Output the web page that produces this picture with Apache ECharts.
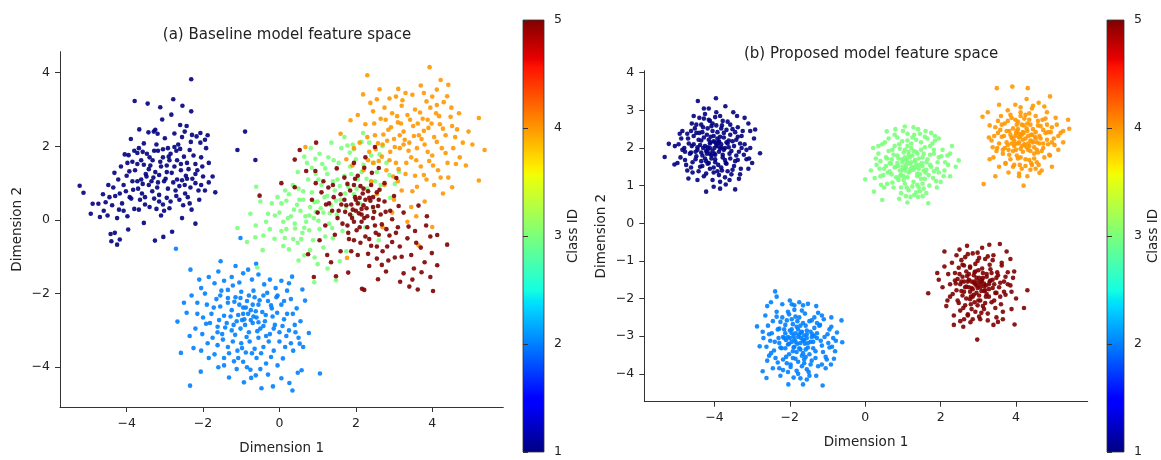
<!DOCTYPE html>
<html><head><meta charset="utf-8">
<script src="https://cdn.jsdelivr.net/npm/echarts@6/dist/echarts.min.js"></script>
<style>html,body{margin:0;padding:0;background:#fff}#c{width:1161px;height:460px}</style>
</head><body><div id="c"></div>
<script>
// ---------- DATA ----------
const titleA = '(a) Baseline model feature space';
const titleB = '(b) Proposed model feature space';
const xName = 'Dimension 1';
const yName = 'Dimension 2';
const cbName = 'Class ID';
const classIds = [1, 2, 3, 4, 5];
const ticksAx = [-4, -2, 0, 2, 4];
const ticksAy = [-4, -2, 0, 2, 4];
const ticksBx = [-4, -2, 0, 2, 4];
const ticksBy = [-4, -3, -2, -1, 0, 1, 2, 3, 4];
const cbTicks = [1, 2, 3, 4, 5];

// Panel (a) baseline
const a1 = [[-5.23,0.93],[-5.13,0.74],[-4.94,0.17],[-4.89,0.44],[-4.74,0.44],[-4.42,-0.38],[-4.31,-0.35],[-4.40,-0.58],[-4.25,-0.67],[-4.18,-0.53],[-3.96,-0.26],[-3.26,-0.56],[-3.04,-0.46],[-2.81,-0.32],[-1.10,1.90],[-0.90,2.40],[-0.63,1.63],[-2.31,3.82],[-3.79,3.23],[-3.45,3.16],[-2.78,3.28],[-3.12,3.06],[-2.54,3.10],[-2.31,2.95],[-2.83,2.86],[-3.07,2.73],[-3.67,2.46],[-3.43,2.38],[-3.29,2.40],[-3.19,2.34],[-2.60,2.58],[-2.43,2.55],[-2.29,2.31],[-2.17,2.27],[-2.07,2.36],[-1.88,2.30],[-3.89,2.20],[-2.07,2.10],[-4.05,1.78],[-3.95,1.76],[-3.72,1.82],[-3.58,1.85],[-3.47,1.80],[-3.32,1.62],[-3.18,1.88],[-3.05,1.92],[-2.92,1.95],[-2.85,1.80],[-2.70,1.88],[-2.60,1.93],[-2.50,1.72],[-2.42,1.55],[-2.35,1.90],[-2.20,1.52],[-2.00,1.18],[-1.85,1.55],[-1.68,0.75],[-2.05,0.95],[-2.20,1.00],[-2.33,0.88],[-2.45,1.20],[-2.58,1.35],[-2.68,1.10],[-2.75,1.45],[-2.88,1.62],[-2.95,1.30],[-3.02,1.05],[-3.10,1.45],[-3.15,1.22],[-3.25,1.30],[-3.35,1.05],[-3.42,0.95],[-3.50,1.25],[-3.55,1.50],[-3.62,1.10],[-3.70,0.85],[-3.78,1.35],[-3.85,1.05],[-3.92,0.62],[-4.00,1.20],[-4.08,0.95],[-4.15,1.45],[-4.22,1.10],[-4.30,0.65],[-4.38,0.40],[-4.45,0.62],[-4.55,0.48],[-4.60,0.25],[-4.12,0.45],[-3.98,0.10],[-3.80,0.30],[-3.65,0.55],[-3.52,0.62],[-3.40,0.35],[-3.28,0.58],[-3.15,0.68],[-3.05,0.42],[-2.95,0.60],[-2.85,0.50],[-2.72,0.80],[-2.62,0.55],[-2.52,0.40],[-2.40,0.62],[-2.30,0.28],[-2.48,0.95],[-2.78,1.02],[-3.20,0.88],[-3.60,0.72],[-3.88,0.58],[-4.25,0.05],[-4.50,0.12],[-2.20,-0.10],[-2.55,0.05],[-3.10,0.12],[-3.55,-0.08],[-2.90,1.72],[-3.40,1.70],[-3.85,1.58],[-2.25,1.75],[-2.65,2.05],[-3.00,2.22],[-3.55,2.08],[-2.15,1.35],[-1.95,0.80],[-2.10,0.55],[-1.75,1.18],[-2.42,1.12],[-2.92,0.85],[-3.30,1.15],[-3.72,1.05],[-4.35,0.88],[-4.70,0.08],[-2.55,2.25],[-2.75,2.35],[-3.25,2.45],[-1.92,1.95],[-2.05,1.70],
[-3.62,1.62],[-3.38,1.48],[-3.12,1.58],[-2.98,1.12],[-2.82,1.28],[-2.68,1.62],[-2.55,1.08],[-2.38,1.38],[-2.28,1.12],[-3.48,1.18],[-3.58,0.98],[-3.72,1.52],[-3.93,1.32],[-4.02,0.78],[-4.18,0.72],[-3.83,0.82],[-3.33,0.78],[-3.18,1.02],[-2.62,0.92],[-2.47,0.72],[-2.88,0.32],[-3.22,0.30],[-3.68,0.28],[-4.08,0.25],[-2.75,1.98],[-3.22,2.05],[-3.68,1.95],[-2.32,2.12],[-2.02,1.45],[-1.85,1.02],[-2.12,0.80],[-3.05,1.70],[-3.28,1.88],[-3.80,1.88],[-4.32,1.28],[-4.48,0.95],[-4.62,0.70],[-2.58,1.52],[-2.95,1.48],[-3.42,1.38],[-3.15,0.50],[-2.70,0.65],[-2.20,1.25],[-3.98,1.55],[-3.52,0.42],[-3.02,0.25],[-2.35,0.45],[-4.20,0.28],[-1.95,2.18],[-2.48,2.40]];
const a2 = [[-2.71,-0.78],[-1.02,-0.49],[-2.33,-1.35],[-1.54,-1.12],[-0.61,-1.19],[-2.67,-2.76],[-2.43,-2.52],[-2.58,-3.61],[-2.25,-3.48],[-2.06,-4.12],[-2.34,-4.50],[-1.32,-4.28],[-0.93,-4.41],[-0.74,-4.29],[-0.47,-4.57],[-0.17,-4.52],[0.05,-4.30],[0.26,-4.43],[0.34,-4.63],[0.48,-4.15],[0.58,-4.08],[1.06,-4.17],[0.77,-3.07],[0.67,-2.19],[0.60,-1.89],[0.33,-1.54],[-1.19,-3.84],[-0.76,-4.07],[0.09,-3.76],[0.36,-3.55],[0.53,-3.36],[-2.10,-1.62],[-2.05,-1.85],[-1.95,-2.00],[-1.85,-1.55],[-1.70,-1.72],[-1.60,-1.40],[-1.45,-1.65],[-1.35,-1.90],[-1.25,-1.55],[-1.15,-1.25],[-1.05,-1.70],[-0.95,-1.45],[-0.82,-1.35],[-0.72,-1.62],[-0.55,-1.48],[-0.40,-1.75],[-0.25,-1.62],[-0.10,-1.85],[0.05,-1.65],[0.20,-1.92],[0.30,-2.15],[0.45,-2.40],[0.20,-2.55],[0.05,-2.30],[-0.08,-2.10],[-0.20,-2.40],[-0.30,-2.20],[-0.42,-2.05],[-0.55,-2.30],[-0.65,-2.10],[-0.75,-2.45],[-0.85,-2.20],[-0.95,-2.55],[-1.05,-2.30],[-1.15,-2.10],[-1.25,-2.45],[-1.35,-2.25],[-1.45,-2.60],[-1.55,-2.35],[-1.65,-2.15],[-1.78,-2.55],[-1.90,-2.30],[-2.00,-2.65],[-2.15,-2.25],[-1.82,-2.80],[-1.62,-2.90],[-1.50,-3.10],[-1.38,-2.80],[-1.25,-3.00],[-1.12,-2.75],[-1.02,-2.95],[-0.92,-2.70],[-0.80,-3.05],[-0.70,-2.80],[-0.60,-2.65],[-0.50,-2.95],[-0.38,-2.75],[-0.25,-3.10],[-0.12,-2.85],[0.00,-3.05],[0.12,-2.70],[0.25,-3.00],[0.40,-2.85],[0.50,-3.20],[0.30,-3.35],[0.15,-3.45],[0.00,-3.30],[-0.15,-3.55],[-0.28,-3.30],[-0.42,-3.45],[-0.55,-3.20],[-0.65,-3.50],[-0.78,-3.30],[-0.88,-3.60],[-1.00,-3.35],[-1.10,-3.55],[-1.22,-3.30],[-1.35,-3.45],[-1.48,-3.25],[-1.62,-3.40],[-1.75,-3.20],[-1.88,-3.35],[-2.02,-3.10],[-1.70,-3.65],[-1.45,-3.75],[-0.95,-3.85],[-0.60,-3.75],[-0.35,-3.90],[-0.05,-3.95],[-0.50,-4.05],[-0.85,-4.00],[-1.60,-4.00],[-0.70,-2.30],[-0.90,-2.85],[-1.08,-2.58],[-0.68,-2.62],[-0.45,-2.50],[-1.20,-2.85],[-0.80,-2.05],[-1.00,-1.95],[-0.35,-3.15],[-0.18,-2.62],[0.55,-2.75],[0.62,-3.45],[-2.20,-2.95],[-2.35,-3.15],[-1.55,-2.05],[0.12,-2.20],
[-1.18,-2.22],[-1.02,-2.12],[-0.88,-2.38],[-0.62,-2.48],[-0.52,-2.18],[-0.36,-2.58],[-0.98,-2.72],[-1.28,-2.62],[-1.42,-2.92],[-1.16,-3.12],[-0.86,-3.18],[-0.58,-3.02],[-0.42,-2.88],[-0.22,-2.32],[-0.06,-2.52],[0.08,-2.88],[-1.58,-2.72],[-1.72,-2.38],[-1.92,-2.82],[-1.32,-3.62],[-0.98,-3.48],[-0.72,-3.62],[-0.48,-3.62],[-0.22,-3.72],[0.18,-3.15],[-1.52,-1.92],[-1.22,-1.78],[-0.68,-1.92],[-0.32,-1.98],[-0.05,-2.05],[0.35,-2.55],[-2.15,-2.55],[-2.30,-2.05],[-1.12,-4.05],[-0.30,-4.20],[-2.05,-3.55],[-1.85,-3.75],[0.42,-3.05],[-0.75,-2.72],[-0.95,-2.38],[-1.35,-2.12],[-1.08,-3.75],[-0.62,-4.22],[-2.50,-2.25],[0.25,-1.72],[-0.55,-2.78],[-0.82,-2.55],[-1.62,-3.05],[-0.15,-2.95],[-1.45,-3.95]];
const a3 = [[-1.10,-0.22],[-0.63,-0.47],[-0.42,-0.42],[-0.44,-0.82],[-0.13,-0.51],[0.14,-0.49],[0.10,-0.71],[0.36,-0.52],[0.57,-0.52],[0.65,-0.96],[0.80,-0.82],[1.26,-1.32],[0.91,-1.69],[1.48,-1.64],[0.41,-0.23],[0.65,-0.21],[-0.58,-1.29],[-0.61,0.90],[-0.76,0.17],[-0.30,0.17],[0.18,0.52],[0.46,0.41],[0.94,1.66],[1.36,2.10],[2.19,2.36],[1.84,1.83],[3.13,1.31],[2.50,1.05],[-0.20,0.45],[0.00,0.20],[0.10,-0.05],[0.25,0.70],[0.30,0.10],[0.40,-0.10],[0.50,0.85],[0.55,0.25],[0.62,0.55],[0.70,-0.05],[0.75,1.10],[0.80,0.35],[0.85,0.75],[0.90,0.05],[0.95,1.25],[1.00,0.50],[1.05,-0.25],[1.10,0.95],[1.15,0.20],[1.20,1.40],[1.25,0.65],[1.30,-0.10],[1.35,0.40],[1.40,1.05],[1.45,0.80],[1.50,0.15],[1.55,1.55],[1.60,0.55],[1.65,-0.30],[1.70,1.20],[1.75,0.35],[1.80,0.90],[1.85,1.45],[1.90,0.10],[1.95,0.70],[2.00,1.65],[2.05,1.10],[2.10,0.45],[2.20,1.50],[2.30,0.85],[2.40,1.75],[2.45,0.30],[2.55,1.30],[2.65,0.95],[2.80,1.55],[2.90,0.60],[0.35,0.95],[0.15,0.80],[-0.05,0.62],[-0.35,-0.05],[0.05,-0.30],[0.60,-0.35],[0.88,-0.55],[1.15,-0.75],[1.40,-0.50],[0.48,1.30],[0.72,1.55],[1.05,1.80],[1.28,1.70],[1.62,1.95],[1.70,2.25],[1.92,2.05],[2.35,2.10],[0.82,1.95],[0.25,-0.80],[0.50,-1.10],[1.00,-1.20],[1.75,-0.85],[-0.85,-0.60],[-0.50,0.50],[2.25,-0.20],[2.60,-0.55],[1.20,-0.45],[0.95,0.22],[1.52,1.10],[0.68,0.10],[2.70,2.00],
[0.62,0.78],[0.78,0.12],[0.92,0.48],[1.08,0.32],[1.18,0.62],[1.32,0.18],[1.48,0.52],[1.58,0.92],[1.72,0.72],[1.88,1.25],[2.02,0.85],[2.15,1.30],[2.28,1.12],[2.48,1.55],[1.42,1.62],[1.25,1.25],[1.02,1.10],[0.85,1.42],[0.52,0.55],[0.38,0.28],[0.22,0.05],[0.05,0.45],[-0.12,0.12],[-0.25,-0.25],[0.78,-0.28],[1.38,-0.22],[1.02,-0.02],[0.48,-0.62],[0.92,-1.02],[1.58,-1.12],[1.95,1.92],[2.15,2.12],[1.78,2.02],[2.62,1.78],[2.88,1.22],[3.02,0.98],[0.18,-0.25],[-0.62,-0.15],[0.65,1.72],[1.12,1.52]];
const a4 = [[2.30,3.93],[3.93,4.15],[4.22,3.80],[4.42,3.67],[2.19,3.41],[2.55,3.28],[3.11,3.56],[3.30,3.45],[3.78,3.45],[4.12,3.54],[4.39,3.36],[5.22,2.77],[5.37,1.90],[5.22,1.07],[4.88,1.48],[4.52,0.89],[4.65,2.46],[1.60,2.34],[1.86,2.71],[0.68,1.98],[1.91,1.48],[1.77,-1.03],[4.00,-0.19],[3.64,-0.69],[2.10,2.10],[2.25,2.60],[2.35,1.85],[2.45,2.95],[2.50,2.30],[2.60,1.60],[2.65,2.75],[2.70,2.05],[2.75,3.05],[2.80,1.35],[2.85,2.45],[2.90,1.85],[2.95,2.90],[3.00,2.20],[3.05,1.55],[3.10,2.65],[3.15,1.95],[3.20,3.10],[3.25,2.40],[3.30,1.25],[3.35,2.85],[3.40,2.10],[3.45,1.70],[3.50,2.55],[3.55,3.00],[3.60,1.95],[3.65,2.30],[3.70,1.45],[3.75,2.75],[3.80,2.05],[3.85,1.10],[3.90,2.50],[3.95,3.05],[4.00,1.75],[4.05,2.25],[4.10,2.90],[4.15,1.35],[4.20,2.60],[4.25,1.95],[4.30,3.20],[4.35,2.30],[4.40,1.55],[4.48,2.80],[4.55,1.95],[4.60,2.25],[4.72,1.70],[4.80,2.10],[4.95,2.40],[2.20,1.35],[2.40,1.05],[2.55,0.70],[2.75,0.95],[3.00,0.55],[3.20,0.80],[3.45,0.35],[3.60,0.90],[3.80,0.50],[4.05,0.95],[3.35,-0.05],[2.95,0.20],[3.10,1.05],[3.55,1.20],[2.05,2.85],[2.30,2.25],[2.62,3.55],[2.88,3.30],[3.48,3.40],[3.70,3.65],[4.00,3.35],[4.50,3.05],[4.70,2.90],[5.05,2.05],[3.25,2.05],[3.15,2.30],[3.72,2.20],[2.82,2.15],[3.92,1.60],[4.22,1.15],[4.42,1.15],[2.45,1.55],[3.05,3.35],[1.95,1.95],[1.75,1.65],[3.58,0.10],[2.70,-0.20],
[2.92,2.52],[3.02,1.98],[3.18,2.62],[3.28,2.18],[3.38,1.88],[3.52,2.28],[3.62,2.62],[3.78,2.42],[3.88,1.85],[3.98,2.62],[4.12,2.12],[4.28,2.48],[2.72,2.32],[2.58,2.08],[2.48,2.62],[2.38,3.18],[2.78,2.72],[3.08,2.82],[3.42,2.72],[3.68,2.92],[3.85,3.22],[4.18,2.82],[4.35,1.82],[4.52,2.55],[3.12,1.38],[3.32,1.55],[3.58,1.62],[3.78,1.22],[4.02,1.48],[2.68,1.72],[2.52,1.92],[2.88,1.62],[3.22,3.25],[4.62,1.52],[2.98,1.18],[3.48,0.78],[4.28,0.72],[2.32,1.62],[3.88,2.72],[4.12,3.12]];
const a5 = [[0.96,2.10],[0.53,1.90],[0.40,1.64],[0.05,1.00],[-0.52,0.66],[0.40,0.89],[0.70,1.33],[0.94,1.33],[2.50,1.98],[2.60,1.41],[3.06,1.14],[3.64,0.39],[3.86,0.10],[3.84,-0.15],[4.13,-0.41],[4.39,-0.67],[4.13,-1.23],[4.02,-1.93],[3.62,-1.89],[3.40,-1.81],[3.16,-1.68],[2.79,-1.40],[2.58,-1.61],[2.16,-1.87],[2.22,-1.90],[1.80,-1.43],[1.48,-1.53],[0.90,-1.55],[0.75,-0.93],[1.25,-0.95],[3.52,-1.32],[3.99,-0.90],[0.85,0.55],[1.00,0.20],[1.10,0.75],[1.20,-0.15],[1.30,0.45],[1.40,0.95],[1.45,-0.40],[1.55,0.25],[1.60,0.70],[1.65,-0.10],[1.70,1.15],[1.75,0.40],[1.80,-0.35],[1.85,0.80],[1.90,0.05],[1.95,-0.55],[2.00,0.55],[2.05,1.20],[2.10,-0.20],[2.15,0.30],[2.20,0.85],[2.25,-0.45],[2.30,0.10],[2.35,0.60],[2.40,-0.70],[2.45,0.35],[2.50,-0.15],[2.55,0.75],[2.60,-0.40],[2.65,0.15],[2.70,-0.85],[2.75,0.50],[2.80,-0.25],[2.90,0.25],[2.95,-0.60],[3.00,0.65],[3.10,-0.20],[3.20,-1.00],[3.25,0.20],[3.35,-0.50],[3.45,-0.95],[3.55,-0.30],[3.70,-0.75],[3.80,-1.15],[3.95,-0.45],[2.05,-0.95],[1.60,-0.85],[1.35,-1.15],[2.35,-1.25],[2.85,-1.10],[1.15,1.05],[1.50,1.40],[1.95,1.55],[2.25,1.70],[2.10,0.60],[2.20,0.40],[2.00,0.25],[2.15,-0.05],[1.85,0.15],[2.45,0.05],[2.30,-0.20],[1.95,0.95],[2.60,0.55],[2.75,1.00],[1.70,0.55],[2.40,0.95],[3.25,-1.45],[3.95,-1.55],[2.55,-1.05],[1.05,-0.55],[0.95,1.00],[2.12,-0.62],[1.78,-0.15],
[1.88,0.42],[1.98,0.62],[2.08,0.18],[2.18,0.72],[2.28,0.32],[2.38,0.52],[2.48,0.22],[2.58,0.38],[2.22,0.05],[2.02,-0.28],[1.92,0.28],[2.12,0.92],[2.32,0.78],[1.72,0.22],[1.62,0.42],[1.52,0.05],[1.82,-0.52],[2.35,-0.52],[2.52,-0.35],[2.68,-0.12],[2.78,0.22],[2.88,-0.42],[2.95,0.02],[3.05,-0.35],[2.62,0.82],[2.42,1.28],[2.22,1.42],[1.98,1.12],[1.78,0.98],[1.42,0.62],[1.28,0.88],[1.38,0.25],[1.22,0.42],[2.05,0.45],[2.25,0.55],[2.45,0.62],[2.15,0.15],[1.95,-0.05],[2.55,-0.72],[2.82,-0.72],[3.15,-0.72],[3.38,-0.18],[3.58,-0.62],[3.12,0.38],[2.32,-0.92],[1.88,-0.85],[2.68,-1.22],[3.02,-1.02],[3.72,-1.42],[3.48,-1.62]];

// Panel (b) proposed
const b1 = [[-5.32,1.76],[-5.21,2.11],[-5.06,1.56],[-2.79,1.86],[-2.92,2.49],[-3.96,3.32],[-4.44,3.25],[-3.71,3.11],[-4.22,0.84],[-4.02,0.97],[-3.45,0.90],[-4.69,1.19],[-3.70,1.03],[-4.95,2.10],[-4.90,1.75],[-4.85,2.45],[-4.80,2.00],[-4.75,1.55],[-4.70,2.25],[-4.65,1.85],[-4.60,2.65],[-4.58,1.35],[-4.55,2.10],[-4.50,1.70],[-4.48,2.40],[-4.45,1.95],[-4.40,2.80],[-4.38,1.50],[-4.35,2.20],[-4.32,1.80],[-4.30,2.55],[-4.28,1.25],[-4.25,2.05],[-4.22,1.65],[-4.20,2.35],[-4.18,1.95],[-4.15,2.75],[-4.12,1.45],[-4.10,2.15],[-4.08,1.80],[-4.05,2.45],[-4.02,1.35],[-4.00,2.00],[-3.98,1.70],[-3.95,2.60],[-3.92,2.25],[-3.90,1.55],[-3.88,1.90],[-3.85,2.85],[-3.82,2.10],[-3.80,1.40],[-3.78,1.75],[-3.75,2.40],[-3.72,2.00],[-3.70,1.60],[-3.65,2.70],[-3.62,2.20],[-3.60,1.85],[-3.55,1.30],[-3.52,2.50],[-3.48,2.05],[-3.45,1.65],[-3.40,2.85],[-3.38,2.30],[-3.35,1.90],[-3.30,1.45],[-3.25,2.45],[-3.20,2.10],[-3.15,1.70],[-3.10,2.65],[-3.05,2.00],[-3.00,1.60],[-3.20,2.80],[-3.50,2.95],[-3.95,2.95],[-4.25,2.90],[-4.62,2.45],[-4.88,2.25],[-4.98,1.60],[-4.72,1.40],[-4.45,1.15],[-4.05,1.15],[-3.85,1.10],[-3.60,1.15],[-3.32,1.30],[-3.10,1.45],[-2.95,2.25],[-3.05,2.45],[-4.15,1.60],[-4.00,1.85],[-3.92,2.05],[-4.30,2.00],[-4.10,2.30],[-3.75,1.95],[-4.20,1.85],[-3.85,2.30],[-4.35,1.65],[-3.68,2.15],[-4.50,1.90],[-3.98,2.15],[-4.12,2.00],[-4.40,2.40],[-3.58,2.35],[-4.60,2.05],[-3.80,2.60],[-4.05,2.65],[-3.42,1.80],[-3.28,2.00],[-4.78,1.90],[-5.05,2.05],[-4.28,3.05],
[-4.12,2.12],[-3.88,2.18],[-4.22,1.92],[-3.78,1.82],[-4.38,2.08],[-3.62,2.02],[-4.02,2.32],[-3.98,1.62],[-4.28,2.28],[-3.72,1.68],[-4.48,1.78],[-3.52,2.18],[-4.18,2.52],[-3.82,1.48],[-4.32,1.52],[-3.68,2.48],[-4.08,1.72],[-3.92,2.42],[-4.42,2.22],[-3.58,1.72],[-4.58,1.62],[-3.42,2.22],[-4.12,2.72],[-3.88,1.28],[-4.68,2.12],[-3.32,2.12],[-4.02,1.48],[-3.98,2.82],[-4.52,2.52],[-3.48,1.52],[-4.22,1.32],[-3.78,2.72],[-4.78,1.68],[-3.22,1.82],[-4.35,2.62],[-3.65,1.38],[-4.15,2.22],[-3.85,1.98],[-4.05,1.92],[-3.95,2.08],[-4.25,1.72],[-3.75,2.28],[-4.45,2.02],[-3.55,1.92],[-4.62,1.88],[-3.38,1.68],[-4.32,2.42],[-3.68,1.58],[-4.18,1.58],[-3.82,2.52],[-4.08,2.58],[-3.92,1.38],[-4.55,2.32],[-3.45,2.42],[-4.72,2.38],[-3.28,2.32],[-4.42,1.38],[-3.58,2.62],[-4.28,2.78],[-3.72,1.22],[-4.85,1.95],[-3.15,1.95],[-4.02,2.18],[-3.98,1.82],[-4.18,2.02],[-3.82,2.02],[-4.12,1.85],[-3.88,2.15],[-4.35,1.88],[-3.65,2.12],[-4.48,2.62],[-3.52,1.42],[-4.62,1.48],[-3.38,2.55],[-4.15,3.05],[-3.85,0.92],[-4.92,2.38],[-3.08,1.72],[-4.55,2.85],[-3.35,1.18]];
const b2 = [[-2.39,-1.81],[-2.00,-2.05],[-1.52,-2.14],[-2.87,-2.74],[-2.80,-3.27],[-0.63,-2.58],[-0.61,-3.16],[-0.83,-3.60],[-0.91,-3.75],[-1.13,-4.31],[-1.65,-4.28],[-2.04,-4.28],[-2.62,-4.11],[-2.72,-3.93],[-2.60,-2.20],[-2.55,-2.95],[-2.50,-3.45],[-2.45,-2.60],[-2.40,-3.15],[-2.35,-2.35],[-2.32,-3.70],[-2.28,-2.80],[-2.25,-3.30],[-2.20,-2.50],[-2.18,-3.90],[-2.15,-3.05],[-2.12,-2.70],[-2.10,-3.55],[-2.05,-2.35],[-2.02,-3.20],[-2.00,-2.85],[-1.98,-3.75],[-1.95,-2.55],[-1.92,-3.40],[-1.90,-3.00],[-1.88,-2.30],[-1.85,-3.60],[-1.82,-2.75],[-1.80,-3.20],[-1.78,-4.00],[-1.75,-2.50],[-1.72,-3.35],[-1.70,-2.90],[-1.68,-3.80],[-1.65,-2.65],[-1.62,-3.10],[-1.60,-2.40],[-1.58,-3.55],[-1.55,-2.85],[-1.52,-3.30],[-1.50,-3.95],[-1.48,-2.60],[-1.45,-3.15],[-1.42,-3.65],[-1.40,-2.95],[-1.35,-2.50],[-1.32,-3.40],[-1.28,-3.05],[-1.25,-3.80],[-1.20,-2.70],[-1.15,-3.25],[-1.10,-2.55],[-1.05,-3.55],[-1.00,-2.95],[-0.95,-3.30],[-0.90,-2.75],[-0.85,-3.05],[-0.75,-2.90],[-1.70,-3.05],[-1.85,-3.15],[-2.00,-3.05],[-1.60,-3.20],[-1.75,-2.95],[-1.90,-3.30],[-1.55,-3.05],[-2.10,-3.10],[-1.65,-3.45],[-1.80,-2.60],[-2.30,-3.05],[-1.35,-3.00],[-2.45,-3.85],[-2.60,-3.65],[-2.70,-3.05],[-2.65,-2.45],[-2.50,-2.10],[-2.20,-2.15],[-1.30,-2.20],[-1.15,-2.45],[-0.90,-2.50],[-0.80,-3.40],[-1.05,-3.85],[-1.30,-4.05],[-1.90,-4.10],[-2.25,-4.05],[-1.55,-4.15],[-2.35,-1.95],[-1.75,-2.10],[-1.45,-3.75],[-2.05,-3.95],[-1.95,-2.15],
[-1.88,-3.08],[-1.72,-3.18],[-1.95,-2.92],[-1.62,-2.98],[-2.05,-3.22],[-1.52,-3.18],[-1.78,-2.82],[-1.82,-3.42],[-2.12,-2.92],[-1.45,-2.88],[-1.68,-3.52],[-1.92,-2.68],[-2.22,-3.32],[-1.38,-3.32],[-1.58,-2.72],[-2.02,-3.48],[-2.32,-2.82],[-1.28,-2.92],[-1.78,-3.68],[-1.85,-2.48],[-2.42,-3.38],[-1.18,-3.12],[-1.62,-3.72],[-2.08,-2.58],[-2.18,-3.62],[-1.42,-2.58],[-1.98,-3.82],[-1.68,-2.32],[-2.52,-3.12],[-1.08,-3.02],[-1.55,-3.88],[-2.25,-2.62],[-1.32,-3.58],[-2.38,-3.58],[-1.22,-2.72],[-1.72,-4.12],[-1.88,-2.18],[-2.58,-2.72],[-0.98,-3.18],[-1.48,-3.48],[-2.15,-2.82],[-1.75,-3.32],[-1.95,-3.15],[-1.65,-3.12],[-1.85,-2.92],[-1.55,-2.95],[-2.05,-3.02],[-1.72,-2.72],[-1.92,-3.58],[-1.38,-3.15],[-2.28,-3.18],[-1.58,-3.35],[-2.12,-3.32],[-1.28,-2.65],[-2.48,-2.92],[-1.12,-3.42],[-1.82,-3.92],[-2.02,-2.42],[-2.62,-3.28],[-0.95,-2.82],[-1.48,-4.05],[-2.35,-2.48],[-1.02,-3.62],[-2.55,-3.52],[-1.25,-2.38],[-2.72,-2.88],[-0.88,-3.28],[-1.65,-2.18],[-2.28,-3.85],[-1.15,-3.75],[-1.95,-2.82],[-1.62,-3.62],[-1.78,-3.02],[-2.18,-3.02],[-1.42,-3.02],[-1.88,-3.28],[-1.68,-2.88],[-2.08,-3.72],[-1.35,-2.78],[-0.78,-3.12]];
const b3 = [[0.00,1.17],[0.23,0.84],[0.45,0.62],[1.67,0.53],[2.48,1.67],[2.18,1.80],[1.05,2.57],[1.28,2.55],[0.21,2.00],[0.57,2.44],[0.30,1.55],[0.35,1.85],[0.40,1.25],[0.45,2.10],[0.50,1.45],[0.55,1.75],[0.58,1.05],[0.62,2.25],[0.65,1.60],[0.70,1.30],[0.72,1.95],[0.75,0.95],[0.78,2.35],[0.80,1.50],[0.85,1.80],[0.88,1.15],[0.90,2.10],[0.92,1.40],[0.95,0.80],[0.98,1.70],[1.00,2.45],[1.02,1.25],[1.05,1.95],[1.08,1.55],[1.10,0.95],[1.12,2.20],[1.15,1.35],[1.18,1.75],[1.20,0.70],[1.22,2.00],[1.25,1.50],[1.28,1.10],[1.30,2.35],[1.32,1.65],[1.35,1.90],[1.38,1.25],[1.40,2.50],[1.42,1.45],[1.45,0.85],[1.48,2.15],[1.50,1.60],[1.52,1.05],[1.55,1.85],[1.58,2.30],[1.60,1.35],[1.65,1.70],[1.70,1.00],[1.72,2.05],[1.75,1.50],[1.80,1.20],[1.82,1.85],[1.85,2.20],[1.90,1.45],[1.95,1.75],[2.00,1.10],[2.05,1.95],[2.10,1.40],[2.20,1.55],[2.25,1.25],[2.30,2.05],[1.00,1.50],[1.10,1.65],[1.20,1.45],[0.95,1.30],[1.35,1.55],[1.25,1.80],[1.05,1.40],[0.85,1.60],[1.45,1.30],[1.15,1.90],[1.55,1.40],[0.70,1.70],[0.60,1.35],[0.40,1.65],[1.62,0.80],[0.90,0.65],[1.30,0.75],[1.90,0.95],[0.15,1.40],[0.35,2.05],[0.80,2.50],[1.60,2.45],[1.95,2.25],[1.75,2.40],[0.50,0.95],[1.12,0.55],[1.40,0.70],[2.40,1.50],[0.25,1.20],
[1.18,1.58],[1.32,1.48],[1.08,1.68],[1.42,1.72],[0.98,1.42],[1.28,1.92],[1.12,1.22],[1.52,1.52],[0.88,1.72],[1.38,1.32],[1.02,1.88],[1.62,1.62],[0.78,1.48],[1.22,2.12],[1.48,1.18],[0.92,1.98],[1.72,1.82],[1.05,1.05],[1.58,2.02],[0.68,1.58],[1.35,2.22],[1.82,1.38],[0.82,1.22],[1.15,0.88],[1.68,1.28],[0.62,1.92],[1.45,2.38],[1.92,1.62],[0.72,1.08],[1.25,0.98],[1.78,2.12],[0.55,1.52],[1.38,1.02],[2.02,1.78],[0.85,2.28],[1.55,0.92],[0.48,1.28],[1.12,2.38],[1.88,1.12],[0.95,0.95],[1.22,1.62],[1.08,1.48],[1.32,1.68],[1.18,1.38],[0.98,1.62],[1.42,1.55],[1.28,1.42],[1.05,1.75],[1.52,1.75],[0.88,1.52],[1.62,1.42],[1.15,1.82],[0.75,1.82],[1.72,1.55],[1.38,1.85],[0.92,1.25],[1.48,1.95],[1.02,1.15],[1.82,1.95],[0.65,1.38],[1.58,1.18],[1.25,2.28],[1.95,1.35],[0.58,1.72],[1.42,0.95],[1.12,2.05],[2.12,1.62],[0.78,2.05],[1.65,2.25],[0.38,1.45],[1.35,0.82],[2.08,1.25],[0.52,2.15],[1.85,2.32],[0.98,2.18],[1.52,0.72],[0.42,1.02],[2.25,1.85],[1.08,0.72],[0.28,1.72]];
const b4 = [[3.11,2.83],[3.14,1.04],[4.20,1.00],[4.08,1.25],[4.90,3.37],[3.49,3.59],[3.90,3.63],[4.31,3.59],[5.41,2.51],[5.38,2.75],[4.62,1.34],[3.35,2.20],[3.40,1.75],[3.45,2.55],[3.50,2.00],[3.55,1.50],[3.60,2.85],[3.62,2.30],[3.65,1.85],[3.70,2.65],[3.72,1.60],[3.75,2.15],[3.78,3.00],[3.80,1.95],[3.82,2.45],[3.85,1.70],[3.88,2.80],[3.90,2.25],[3.92,1.50],[3.95,2.05],[3.98,3.15],[4.00,2.40],[4.02,1.80],[4.05,2.70],[4.08,2.15],[4.10,1.55],[4.12,2.95],[4.15,2.35],[4.18,1.90],[4.20,2.60],[4.22,2.10],[4.25,1.70],[4.28,3.30],[4.30,2.45],[4.32,1.95],[4.35,2.75],[4.38,2.20],[4.40,1.60],[4.42,3.05],[4.45,2.50],[4.48,1.85],[4.50,2.30],[4.52,2.85],[4.55,1.95],[4.58,2.60],[4.60,1.55],[4.65,2.25],[4.70,2.75],[4.72,2.00],[4.75,1.75],[4.78,2.40],[4.82,2.95],[4.85,2.10],[4.90,1.80],[4.95,2.55],[5.00,2.25],[5.05,2.80],[5.12,1.95],[5.18,2.40],[5.25,2.15],[4.10,2.30],[4.25,2.25],[4.05,2.50],[3.95,2.20],[4.35,2.05],[4.15,2.05],[4.30,2.65],[3.85,2.35],[4.45,2.15],[4.00,1.95],[4.20,2.40],[4.40,2.35],[3.70,2.00],[4.55,2.15],[4.12,1.75],[3.52,2.40],[3.30,2.60],[3.25,2.95],[3.55,3.15],[4.60,3.20],[4.75,3.10],[4.95,1.50],[4.68,1.40],[3.80,1.35],[4.30,1.25],[3.45,1.25],[3.30,1.70],
[4.18,2.22],[4.32,2.32],[4.08,2.38],[4.42,2.18],[3.98,2.12],[4.28,2.52],[4.12,1.98],[4.52,2.42],[3.88,2.28],[4.38,1.92],[4.02,2.62],[4.62,2.12],[3.78,2.08],[4.22,2.78],[4.48,1.72],[3.92,2.52],[4.72,2.48],[4.05,1.72],[4.58,2.72],[3.68,2.32],[4.35,2.92],[4.82,2.22],[3.82,1.82],[4.15,1.45],[4.68,1.92],[3.62,2.62],[4.45,3.12],[4.92,2.42],[3.72,1.58],[4.25,1.52],[4.78,2.78],[3.55,2.12],[4.38,1.42],[5.02,2.08],[3.85,2.88],[4.55,1.62],[3.48,1.92],[4.12,3.08],[4.88,1.82],[3.95,1.55],[4.22,2.08],[4.08,2.28],[4.32,2.12],[4.18,2.42],[3.98,2.32],[4.42,2.35],[4.28,2.02],[4.05,2.12],[4.52,2.25],[3.88,2.12],[4.62,2.32],[4.15,2.62],[3.75,2.45],[4.72,2.12],[4.38,2.62],[3.92,1.92],[4.48,2.02],[4.02,2.45],[4.82,2.62],[3.65,1.95],[4.58,1.88],[4.25,2.88],[4.95,2.15],[3.58,2.48],[4.42,1.55],[4.12,2.85],[5.12,2.32],[3.78,2.72],[4.65,2.58],[3.38,2.02],[4.35,1.68],[5.08,2.62],[3.52,2.72],[4.85,2.42],[3.98,2.75],[4.52,1.45],[3.42,2.32],[5.25,2.45],[4.08,1.32],[3.28,2.28]];
const b5 = [[1.67,-1.86],[1.91,-1.32],[4.30,-1.78],[4.21,-2.25],[3.96,-2.69],[2.97,-3.09],[3.57,-0.55],[3.29,-0.57],[2.70,-0.60],[2.10,-0.75],[3.88,-2.28],[2.79,-2.63],[2.05,-1.70],[2.15,-2.20],[2.20,-1.35],[2.25,-1.95],[2.30,-1.05],[2.35,-2.45],[2.40,-1.60],[2.42,-0.85],[2.45,-2.05],[2.50,-1.35],[2.52,-2.60],[2.55,-1.80],[2.58,-1.10],[2.60,-2.25],[2.62,-1.55],[2.65,-0.90],[2.68,-2.00],[2.70,-1.40],[2.72,-2.45],[2.75,-1.70],[2.78,-1.15],[2.80,-2.15],[2.82,-1.55],[2.85,-0.80],[2.88,-1.90],[2.90,-1.30],[2.92,-2.35],[2.95,-1.65],[2.98,-1.00],[3.00,-2.05],[3.02,-1.45],[3.05,-2.55],[3.08,-1.80],[3.10,-1.20],[3.12,-2.20],[3.15,-1.60],[3.18,-0.95],[3.20,-1.95],[3.22,-1.35],[3.25,-2.40],[3.28,-1.75],[3.30,-1.10],[3.35,-2.10],[3.38,-1.50],[3.40,-0.85],[3.45,-1.85],[3.48,-2.50],[3.50,-1.30],[3.55,-1.70],[3.60,-2.15],[3.62,-1.05],[3.68,-1.55],[3.72,-1.90],[3.78,-1.30],[3.85,-1.65],[3.92,-1.45],[4.00,-2.00],[2.90,-1.55],[3.05,-1.70],[2.85,-1.75],[3.00,-1.55],[2.95,-1.85],[3.10,-1.50],[2.75,-1.50],[3.20,-1.65],[2.80,-1.95],[3.15,-1.80],[2.65,-1.70],[3.30,-1.55],[2.55,-1.55],[3.00,-1.25],[2.90,-2.10],[1.95,-1.50],[2.10,-1.15],[2.35,-2.70],[2.60,-2.75],[3.40,-2.70],[3.65,-2.55],[3.85,-0.95],[3.75,-0.75],[2.50,-0.70],[3.10,-0.65],
[2.92,-1.62],[3.08,-1.55],[2.82,-1.72],[3.18,-1.78],[2.72,-1.55],[3.02,-1.92],[2.88,-1.38],[3.28,-1.62],[2.62,-1.82],[3.12,-1.32],[2.78,-2.02],[3.38,-1.72],[2.52,-1.62],[2.98,-2.18],[3.22,-1.42],[2.68,-1.28],[3.48,-1.85],[2.82,-2.28],[3.32,-1.22],[2.42,-1.78],[3.08,-2.38],[3.58,-1.58],[2.58,-1.42],[2.92,-1.08],[3.42,-2.05],[2.38,-1.52],[3.18,-2.12],[2.72,-2.42],[3.52,-1.38],[2.48,-2.12],[3.02,-0.92],[3.68,-1.82],[2.62,-1.12],[3.25,-2.58],[2.32,-1.88],[3.62,-1.12],[2.85,-2.55],[3.78,-1.62],[2.55,-0.98],[3.38,-0.98],[2.98,-1.72],[3.05,-1.62],[2.88,-1.58],[3.15,-1.68],[2.95,-1.45],[2.78,-1.82],[3.22,-1.88],[2.68,-1.68],[3.32,-1.52],[2.85,-1.95],[3.12,-1.45],[2.75,-1.35],[3.42,-1.62],[2.58,-1.92],[3.05,-2.05],[2.92,-1.28],[3.28,-1.95],[2.65,-2.18],[3.48,-1.45],[2.45,-1.48],[3.15,-2.28],[2.78,-1.18],[3.58,-1.95],[2.52,-2.32],[3.35,-1.32],[2.38,-1.32],[3.02,-2.48],[3.72,-1.42],[2.62,-2.55],[3.45,-2.25],[2.25,-1.62],[3.88,-1.82],[2.98,-0.78],[3.25,-0.88],[2.48,-1.18],[3.65,-2.35],[2.18,-2.05],[3.95,-1.28],[2.72,-0.82],[3.52,-2.62]];

const panelA = [a1, a2, a3, a4, a5];
const panelB = [b1, b2, b3, b4, b5];

// ---------- STYLE ----------
const FONT = 'DejaVu Sans';
const TXT = '#222';
const SPINE = '#333';
function lerpSeg(t, pts){
  for (let i = 0; i < pts.length - 1; i++){
    const [t0, v0] = pts[i], [t1, v1] = pts[i+1];
    if (t >= t0 && t <= t1) return v0 + (v1 - v0) * (t - t0) / (t1 - t0);
  }
  return pts[pts.length-1][1];
}
function jet(t){
  const r = lerpSeg(t, [[0,0],[0.35,0],[0.66,1],[0.89,1],[1,0.5]]);
  const g = lerpSeg(t, [[0,0],[0.125,0],[0.375,1],[0.64,1],[0.91,0],[1,0]]);
  const b = lerpSeg(t, [[0,0.5],[0.11,1],[0.34,1],[0.65,0],[1,0]]);
  return 'rgb(' + Math.round(r*255) + ',' + Math.round(g*255) + ',' + Math.round(b*255) + ')';
}
const jetBreaks = [0,0.11,0.125,0.34,0.35,0.375,0.64,0.65,0.66,0.89,0.91,1];
const cbGradient = {type:'linear', x:0, y:1, x2:0, y2:0,
  colorStops: jetBreaks.map(o => ({offset:o, color: jet(o)}))};
const fmt = v => (v < 0 ? '\u2212' + Math.abs(v) : String(v));

function mainAxis(idx, min, max, ticks, name, gap, isY){
  return {
    gridIndex: idx, type:'value', min, max,
    name, nameLocation:'middle', nameGap: gap,
    nameRotate: isY ? 90 : 0,
    nameTextStyle:{fontFamily:FONT, fontSize:13.5, color:TXT},
    axisLine:{show:true, onZero:false, lineStyle:{color:SPINE, width:1}},
    axisTick:{show:true, customValues:ticks, length:5, lineStyle:{color:SPINE, width:1}},
    axisLabel:{show:true, customValues:ticks, formatter:fmt, margin:10,
      fontFamily:FONT, fontSize:12.5, color:TXT},
    splitLine:{show:false}
  };
}
function cbAxis(idx){
  return {
    gridIndex: idx, type:'value', min:1, max:5, position:'right',
    name: cbName, nameLocation:'middle', nameGap: 22, nameRotate: 90,
    nameTextStyle:{fontFamily:FONT, fontSize:13.5, color:TXT},
    axisLine:{show:false},
    axisTick:{show:true, customValues:cbTicks, length:5, lineStyle:{color:SPINE, width:1}},
    axisLabel:{show:true, customValues:cbTicks, margin:10, fontFamily:FONT, fontSize:12.5, color:TXT},
    splitLine:{show:false}
  };
}

const series = [];
panelA.forEach((pts, i) => series.push({
  type:'scatter', xAxisIndex:0, yAxisIndex:0, data: pts, symbol:'circle', symbolSize:4.6,
  itemStyle:{color: jet((classIds[i]-1)/4), opacity:0.9}, silent:true
}));
panelB.forEach((pts, i) => series.push({
  type:'scatter', xAxisIndex:1, yAxisIndex:1, data: pts, symbol:'circle', symbolSize:4.6,
  itemStyle:{color: jet((classIds[i]-1)/4), opacity:0.9}, silent:true
}));

const option = {
  animation:false,
  backgroundColor:'#fff',
  title:[
    {text:titleA, left:282, top:23, textAlign:'center',
     textStyle:{fontFamily:FONT, fontSize:15, fontWeight:'normal', color:TXT}},
    {text:titleB, left:866, top:42, textAlign:'center',
     textStyle:{fontFamily:FONT, fontSize:15, fontWeight:'normal', color:TXT}}
  ],
  grid:[
    {left:60, top:51.7, width:443.3, height:369},
    {left:644.3, top:70.7, width:443.4, height:331},
    {left:523, top:20, width:21, height:432, show:true, backgroundColor:cbGradient, borderColor:SPINE, borderWidth:0.8},
    {left:1107, top:20, width:22, height:432, show:true, backgroundColor:cbGradient, borderColor:SPINE, borderWidth:0.8}
  ],
  xAxis:[
    mainAxis(0, -5.745, 5.86, ticksAx, xName, 34, false),
    mainAxis(1, -5.86, 5.9, ticksBx, xName, 34, false),
    {gridIndex:2, type:'value', min:0, max:1, show:false},
    {gridIndex:3, type:'value', min:0, max:1, show:false}
  ],
  yAxis:[
    mainAxis(0, -5.08, 4.57, ticksAy, yName, 36, true),
    mainAxis(1, -4.74, 4.053, ticksBy, yName, 36, true),
    cbAxis(2),
    cbAxis(3)
  ],
  series
};
const chart = echarts.init(document.getElementById('c'), null, {renderer:'canvas'});
chart.setOption(option);
</script>
</body></html>
